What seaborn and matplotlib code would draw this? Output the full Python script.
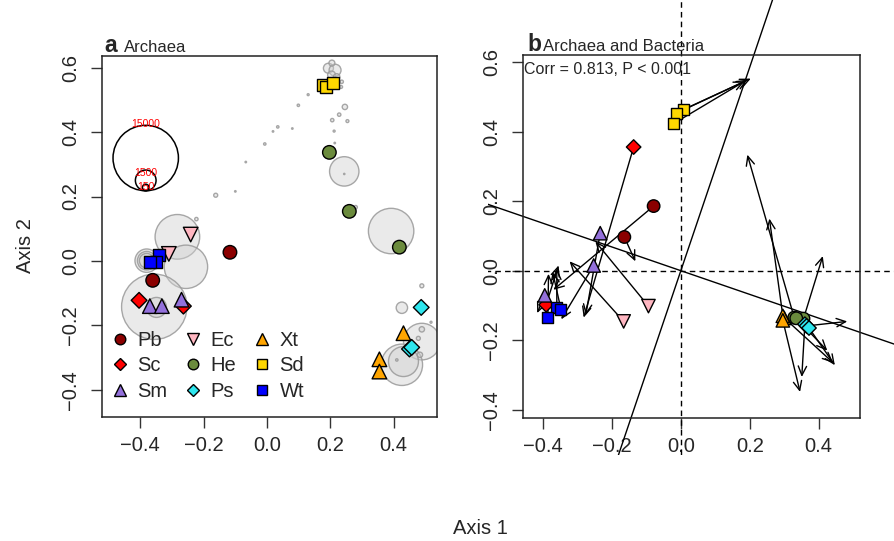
import matplotlib
matplotlib.use("Agg")
import matplotlib.pyplot as plt
from matplotlib.transforms import Bbox, TransformedBbox
import numpy as np
import pandas as pd
import seaborn as sns

sns.set_style("ticks")
plt.rcParams["font.family"] = ["Liberation Sans", "DejaVu Sans"]

# ---- shared group styling -------------------------------------------------
GROUPS = ["Pb", "Sc", "Sm", "Ec", "He", "Ps", "Xt", "Sd", "Wt"]
COLORS = ["#8B0000", "#FF0000", "#9370DB", "#FFB6C1", "#6B8B3D",
          "#2EE6EE", "#FFA500", "#FFD700", "#0000FF"]
MARKERS = ["o", "D", "^", "v", "o", "D", "^", "s", "s"]
# marker areas (pt^2) so the shapes read about the same size
MARKER_AREA = {"o": 95, "D": 64, "^": 110, "v": 110, "s": 74}

# ---- panel a: archaea PCoA ------------------------------------------------
a_group = ["Pb", "Pb", "Sc", "Sc", "Ec", "Ec", "He", "He", "He",
           "Ps", "Ps", "Ps", "Xt", "Xt", "Xt", "Sd", "Sd", "Sd",
           "Wt", "Wt", "Wt", "Sm", "Sm", "Sm"]
a_x = [-0.117, -0.361, -0.404, -0.264, -0.241, -0.310, 0.197, 0.260, 0.418,
       0.487, 0.450, 0.457, 0.431, 0.355, 0.355, 0.178, 0.185, 0.209,
       -0.340, -0.351, -0.370, -0.370, -0.332, -0.270]
a_y = [0.027, -0.060, -0.122, -0.140, 0.082, 0.022, 0.337, 0.154, 0.043,
       -0.144, -0.273, -0.268, -0.224, -0.305, -0.343, 0.546, 0.540, 0.553,
       0.019, -0.003, -0.004, -0.140, -0.140, -0.120]

# OTU bubbles (position + abundance)
otu_x = [0.194, 0.215, 0.204, 0.220, 0.205, 0.236, 0.234, 0.178,
         0.246, 0.206, 0.228, 0.254, 0.212, 0.214,
         0.130, 0.099, 0.034, 0.019, 0.080, -0.007, -0.067, -0.100, -0.162, -0.223,
         0.244, 0.244, 0.280, 0.392,
         -0.283, -0.256, -0.380, -0.380, -0.380, -0.356, -0.349,
         0.489, 0.426, 0.489, 0.426, 0.431, 0.489, 0.478, 0.483, 0.410, 0.518]
otu_y = [0.598, 0.592, 0.577, 0.571, 0.614, 0.556, 0.540, 0.548,
         0.478, 0.437, 0.454, 0.434, 0.403, 0.366,
         0.516, 0.483, 0.416, 0.402, 0.411, 0.363, 0.307, 0.216, 0.204, 0.130,
         0.278, 0.270, 0.167, 0.093,
         0.075, -0.018, 0.001, 0.001, 0.001, -0.142, -0.144,
         -0.077, -0.145, -0.250, -0.322, -0.312, -0.212, -0.240, -0.291, -0.307, -0.190]
otu_abund = [350, 500, 220, 150, 125, 40, 30, 56,
             100, 40, 40, 30, 14, 8,
             14, 20, 20, 8, 8, 20, 8, 8, 56, 40,
             3030, 6, 40, 7230,
             6980, 6600, 1920, 1210, 750, 15000, 1400,
             56, 455, 4700, 6000, 3150, 100, 56, 100, 20, 14]

ref_abund = [15000, 1500, 150]
ref_labels = ["15000", "1500", "150"]
ref_x = -0.383
ref_bottom = 0.218

# ---- panel b: procrustes ---------------------------------------------------
b_group = ["Pb", "Pb", "Sc", "Sc", "Sm", "Sm", "Sm", "Ec", "Ec",
           "He", "He", "He", "Ps", "Ps", "Ps", "Xt", "Xt", "Xt",
           "Sd", "Sd", "Sd", "Wt", "Wt", "Wt"]
b_x = [-0.079, -0.164, -0.137, -0.391, -0.234, -0.253, -0.395, -0.094, -0.166,
       0.329, 0.356, 0.335, 0.360, 0.365, 0.372, 0.300, 0.296, 0.296,
       0.008, -0.014, -0.020, -0.360, -0.348, -0.386]
b_y = [0.186, 0.097, 0.356, -0.098, 0.108, 0.015, -0.071, -0.102, -0.146,
       -0.135, -0.138, -0.137, -0.154, -0.159, -0.165, -0.136, -0.130, -0.143,
       0.464, 0.453, 0.424, -0.106, -0.111, -0.134]
b_xend = [-0.370, -0.132, -0.282, -0.355, -0.276, -0.347, -0.417, -0.248, -0.323,
          0.193, 0.412, 0.425, 0.351, 0.483, 0.447, 0.442, 0.257, 0.346,
          0.203, 0.185, 0.193, -0.360, -0.372, -0.384]
b_yend = [-0.055, 0.027, -0.135, 0.015, -0.128, -0.140, -0.122, 0.084, 0.027,
          0.334, 0.042, -0.230, -0.306, -0.146, -0.272, -0.265, 0.150, -0.349,
          0.553, 0.545, 0.550, 0.006, -0.004, -0.009]
rot_slope = 2.93
corr_text = "Corr = 0.813, P < 0.001"

df_a = pd.DataFrame({"x": a_x, "y": a_y, "group": a_group})
df_b = pd.DataFrame({"x": b_x, "y": b_y, "group": b_group})
palette = dict(zip(GROUPS, COLORS))
markers = dict(zip(GROUPS, MARKERS))
sizes_a = {g: MARKER_AREA[m] for g, m in markers.items()}
sizes_b = {g: MARKER_AREA[m] * 0.85 for g, m in markers.items()}

fig = plt.figure(figsize=(8.95, 5.41), dpi=100)
ax_a = fig.add_axes([0.1140, 0.2292, 0.3743, 0.6673])
ax_b = fig.add_axes([0.5844, 0.2274, 0.3765, 0.6710])

ax_a.set_xlim(-0.521, 0.537)
ax_a.set_ylim(-0.484, 0.636)
ax_b.set_xlim(-0.458, 0.520)
ax_b.set_ylim(-0.424, 0.621)

# bubble radius: 15000 reads -> 32.7 px
R_MAX_PX = 32.7


def bubble_s(v):
    r_pt = R_MAX_PX * np.sqrt(np.asarray(v, float) / 15000) * 72 / fig.dpi
    return (2 * r_pt) ** 2


ax_a.scatter(otu_x, otu_y, s=bubble_s(otu_abund), marker="o",
             facecolor=(0.82, 0.82, 0.82, 0.45), edgecolor=(0.6, 0.6, 0.6, 0.85),
             linewidth=1.0, zorder=1)

# reference circles for abundance scale
ppu_y = ax_a.bbox.height / (ax_a.get_ylim()[1] - ax_a.get_ylim()[0])
ref_r = [R_MAX_PX * np.sqrt(v / 15000) / ppu_y for v in ref_abund]
ref_cy = [ref_bottom + r for r in ref_r]
ax_a.scatter([ref_x] * 3, ref_cy, s=bubble_s(ref_abund), marker="o",
             facecolor="none", edgecolor="black", linewidth=1.1, zorder=2)
for lab, cy, r in zip(ref_labels, ref_cy, ref_r):
    ax_a.text(ref_x, cy + r - 0.012 * (lab != "15000") + 0.004, lab, color="red",
              fontsize=7.5, ha="center", va="center", zorder=3)

sns.scatterplot(data=df_a, x="x", y="y", hue="group", style="group",
                size="group", hue_order=GROUPS, style_order=GROUPS,
                size_order=GROUPS, palette=palette, markers=markers,
                sizes=sizes_a, edgecolor="black", linewidth=1.0,
                ax=ax_a, zorder=4)
sns.move_legend(ax_a, "lower left", bbox_to_anchor=(-0.025, 0.012), ncol=3,
                frameon=False, title=None, fontsize=14.5, handletextpad=0.15,
                columnspacing=0.6, labelspacing=0.32, borderaxespad=0.2,
                markerscale=0.78, handlelength=1.4)

# panel b: arrows then points
for x0, y0, x1, y1 in zip(b_x, b_y, b_xend, b_yend):
    ax_b.annotate("", xy=(x1, y1), xytext=(x0, y0),
                  arrowprops=dict(arrowstyle="->,head_length=0.55,head_width=0.25",
                                  lw=1.0, color="black", shrinkA=0, shrinkB=0,
                                  mutation_scale=12), zorder=2)

region = TransformedBbox(Bbox.from_extents(488 / 895, 86 / 541, 1.0, 1.0),
                         fig.transFigure)
xx = np.array([-3.0, 3.0])
extra = []
extra += ax_b.plot([0, 0], [-3, 3], color="black", ls=(0, (4, 3)), lw=1.0)
extra += ax_b.plot(xx, [0, 0], color="black", ls=(0, (4, 3)), lw=1.0)
extra += ax_b.plot(xx, rot_slope * xx, color="black", lw=1.0)
extra += ax_b.plot(xx, -xx / rot_slope, color="black", lw=1.0)
for ln in extra:
    ln.set_clip_path(None)
    ln.set_clip_box(region)
    ln.set_zorder(1)

sns.scatterplot(data=df_b, x="x", y="y", hue="group", style="group",
                size="group", hue_order=GROUPS, style_order=GROUPS,
                size_order=GROUPS, palette=palette, markers=markers,
                sizes=sizes_b, edgecolor="black", linewidth=1.0,
                ax=ax_b, zorder=4, legend=False)

ax_b.text(0.003, 0.959, corr_text, transform=ax_b.transAxes, fontsize=11.5,
          ha="left", va="center")

# titles
ax_a.text(0.006, 1.012, "a", transform=ax_a.transAxes, fontsize=16.5,
          fontweight="bold", ha="left", va="baseline")
ax_a.text(0.066, 1.012, "Archaea", transform=ax_a.transAxes, fontsize=12,
          ha="left", va="baseline")
ax_b.text(0.012, 1.012, "b", transform=ax_b.transAxes, fontsize=16.5,
          fontweight="bold", ha="left", va="baseline")
ax_b.text(0.058, 1.012, "Archaea and Bacteria", transform=ax_b.transAxes,
          fontsize=12, ha="left", va="baseline")

ticks = [-0.4, -0.2, 0.0, 0.2, 0.4]
yticks = [-0.4, -0.2, 0.0, 0.2, 0.4, 0.6]
for ax in (ax_a, ax_b):
    ax.set_xticks(ticks)
    ax.set_yticks(yticks)
    ax.set_xticklabels([f"{t:.1f}".replace("-", "\u2212") for t in ticks])
    ax.set_yticklabels([f"{t:.1f}".replace("-", "\u2212") for t in yticks],
                       rotation=90, va="center")
    ax.tick_params(axis="both", direction="out", length=8, width=1,
                   labelsize=14.5, color="#333333")
    ax.tick_params(axis="x", pad=6)
    ax.tick_params(axis="y", pad=8)
    ax.set_xlabel("")
    ax.set_ylabel("")
    for sp in ax.spines.values():
        sp.set_visible(True)
        sp.set_color("#222222")
        sp.set_linewidth(1.1)

fig.text(0.537, 0.024, "Axis 1", fontsize=14.5, ha="center", va="center")
fig.text(0.028, 0.547, "Axis 2", fontsize=14.5, ha="center", va="center",
         rotation=90)

fig.savefig("out.png", dpi=100, facecolor="white")
plt.close(fig)
